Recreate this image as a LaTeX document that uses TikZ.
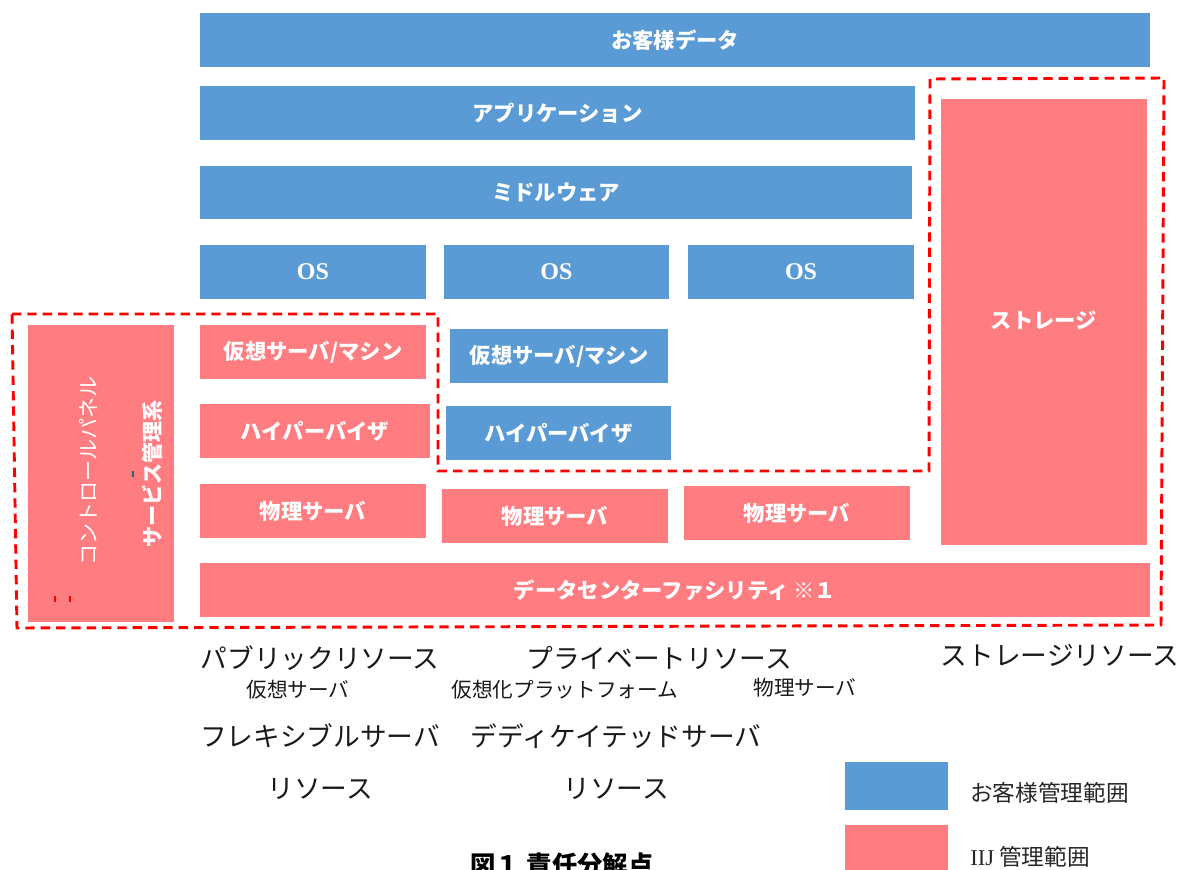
\documentclass[tikz,border=0pt]{standalone}
\usepackage{fontspec}
\setmainfont{Liberation Serif}
\newfontfamily\jp{Noto Sans CJK JP}
\usetikzlibrary{fit}
\definecolor{cblue}{HTML}{5B9BD5}
\definecolor{cpink}{HTML}{FF7C80}
\definecolor{dred}{HTML}{FF0000}
\definecolor{tick}{HTML}{2F5F6F}
\begin{document}
\begin{tikzpicture}[x=0.75pt,y=-0.75pt,
  base/.style={inner sep=0pt, outer sep=0pt, draw=none},
  bbox/.style={base, fill=cblue},
  pbox/.style={base, fill=cpink},
  boxtext/.style={text=white, inner sep=0pt, font=\jp\bfseries\fontsize{16}{19}\selectfont},
  ostext/.style={text=white, inner sep=0pt, font=\rmfamily\bfseries\fontsize{18}{21}\selectfont},
  big/.style={font=\jp\fontsize{20}{24}\selectfont, text=black!90, inner sep=0pt},
  small/.style={font=\jp\fontsize{15.5}{18}\selectfont, text=black!90, inner sep=0pt},
  legtext/.style={font=\jp\fontsize{17}{20}\selectfont, text=black!85, anchor=west, inner sep=0pt},
  scope line/.style={draw=dred, line width=2.2pt, dash pattern=on 7pt off 4.5pt}
]
\useasboundingbox (0,0) rectangle (1182,870);

% customer-managed boxes
\node[bbox, fit={(200,13) (1150,67)}] (data) {};
\node[boxtext] (datat) at (data.center) {お客様データ};
\node[bbox, fit={(200,86) (915,140)}] (app) {};
\node[boxtext] (appt) at (app.center) {アプリケーション};
\node[bbox, fit={(200,166) (912,219)}] (mw) {};
\node[boxtext] (mwt) at (mw.center) {ミドルウェア};
\node[bbox, fit={(200,245) (426,299)}] (os1) {};
\node[ostext] (os1t) at (os1.center) {OS};
\node[bbox, fit={(444,245) (669,299)}] (os2) {};
\node[ostext] (os2t) at (os2.center) {OS};
\node[bbox, fit={(688,245) (914,299)}] (os3) {};
\node[ostext] (os3t) at (os3.center) {OS};
\node[bbox, fit={(450,329) (668,383)}] (vm2) {};
\node[boxtext] (vm2t) at (vm2.center) {仮想サーバ/マシン};
\node[bbox, fit={(446,406) (671,460)}] (hv2) {};
\node[boxtext] (hv2t) at (hv2.center) {ハイパーバイザ};

% IIJ-managed boxes
\node[pbox, fit={(200,325) (426,379)}] (vm1) {};
\node[boxtext] (vm1t) at (vm1.center) {仮想サーバ/マシン};
\node[pbox, fit={(200,404) (430,458)}] (hv1) {};
\node[boxtext] (hv1t) at (hv1.center) {ハイパーバイザ};
\node[pbox, fit={(200,484) (426,538)}] (ps1) {};
\node[boxtext] (ps1t) at (ps1.center) {物理サーバ};
\node[pbox, fit={(442,489) (668,543)}] (ps2) {};
\node[boxtext] (ps2t) at (ps2.center) {物理サーバ};
\node[pbox, fit={(684,486) (910,540)}] (ps3) {};
\node[boxtext] (ps3t) at (ps3.center) {物理サーバ};
\node[pbox, fit={(200,563) (1150,617)}] (dc) {};
\node[boxtext] (dct) at (dc.center) {データセンターファシリティ ※１};
\node[pbox, fit={(941,99) (1147,545)}] (st) {};
\node[boxtext] (stt) at (1044,320) {ストレージ};
\node[pbox, fit={(28,325) (174,622)}] (cpbox) {};
\node[rotate=90, text=white, inner sep=0pt, font=\jp\fontsize{15.8}{18}\selectfont] (cp) at (88,471) {コントロールパネル};
\node[rotate=90, text=white, inner sep=0pt, font=\jp\bfseries\fontsize{15.8}{18}\selectfont] (svc) at (152,474) {サービス管理系};
\draw[dred, line width=0.8pt] (55,596) -- (55,602) (70,596) -- (70,602);
\draw[tick, line width=0.8pt] (133,471) -- (133,477);

% IIJ scope outline
\draw[scope line] (12,314) -- (438,314) -- (438,471) -- (929,471) -- (930,79)
  -- (1164,78) -- (1161,625) -- (17,628) -- cycle;

% bottom labels
\node[big] (pub) at (320,658) {パブリックリソース};
\node[small] (pubs) at (298,690) {仮想サーバ};
\node[big] (flex) at (320,736) {フレキシブルサーバ};
\node[big] (flexr) at (320,789) {リソース};
\node[big] (pri) at (659,658) {プライベートリソース};
\node[small] (pris) at (565,690) {仮想化プラットフォーム};
\node[small] (phys) at (805,688) {物理サーバ};
\node[big] (ded) at (616,736) {デディケイテッドサーバ};
\node[big] (dedr) at (616,789) {リソース};
\node[big] (str) at (1060,655) {ストレージリソース};
\node[font=\jp\bfseries\fontsize{19}{22}\selectfont, inner sep=0pt] (title) at (562,865) {図１ 責任分解点};

% legend
\node[bbox, fit={(845,762) (948,810)}] (lgb) {};
\node[pbox, fit={(845,825) (948,885)}] (lgp) {};
\node[legtext] (lgbt) at (970,793) {お客様管理範囲};
\node[legtext] (lgpt) at (970,857) {{\rmfamily IIJ} 管理範囲};
\end{tikzpicture}
\end{document}
